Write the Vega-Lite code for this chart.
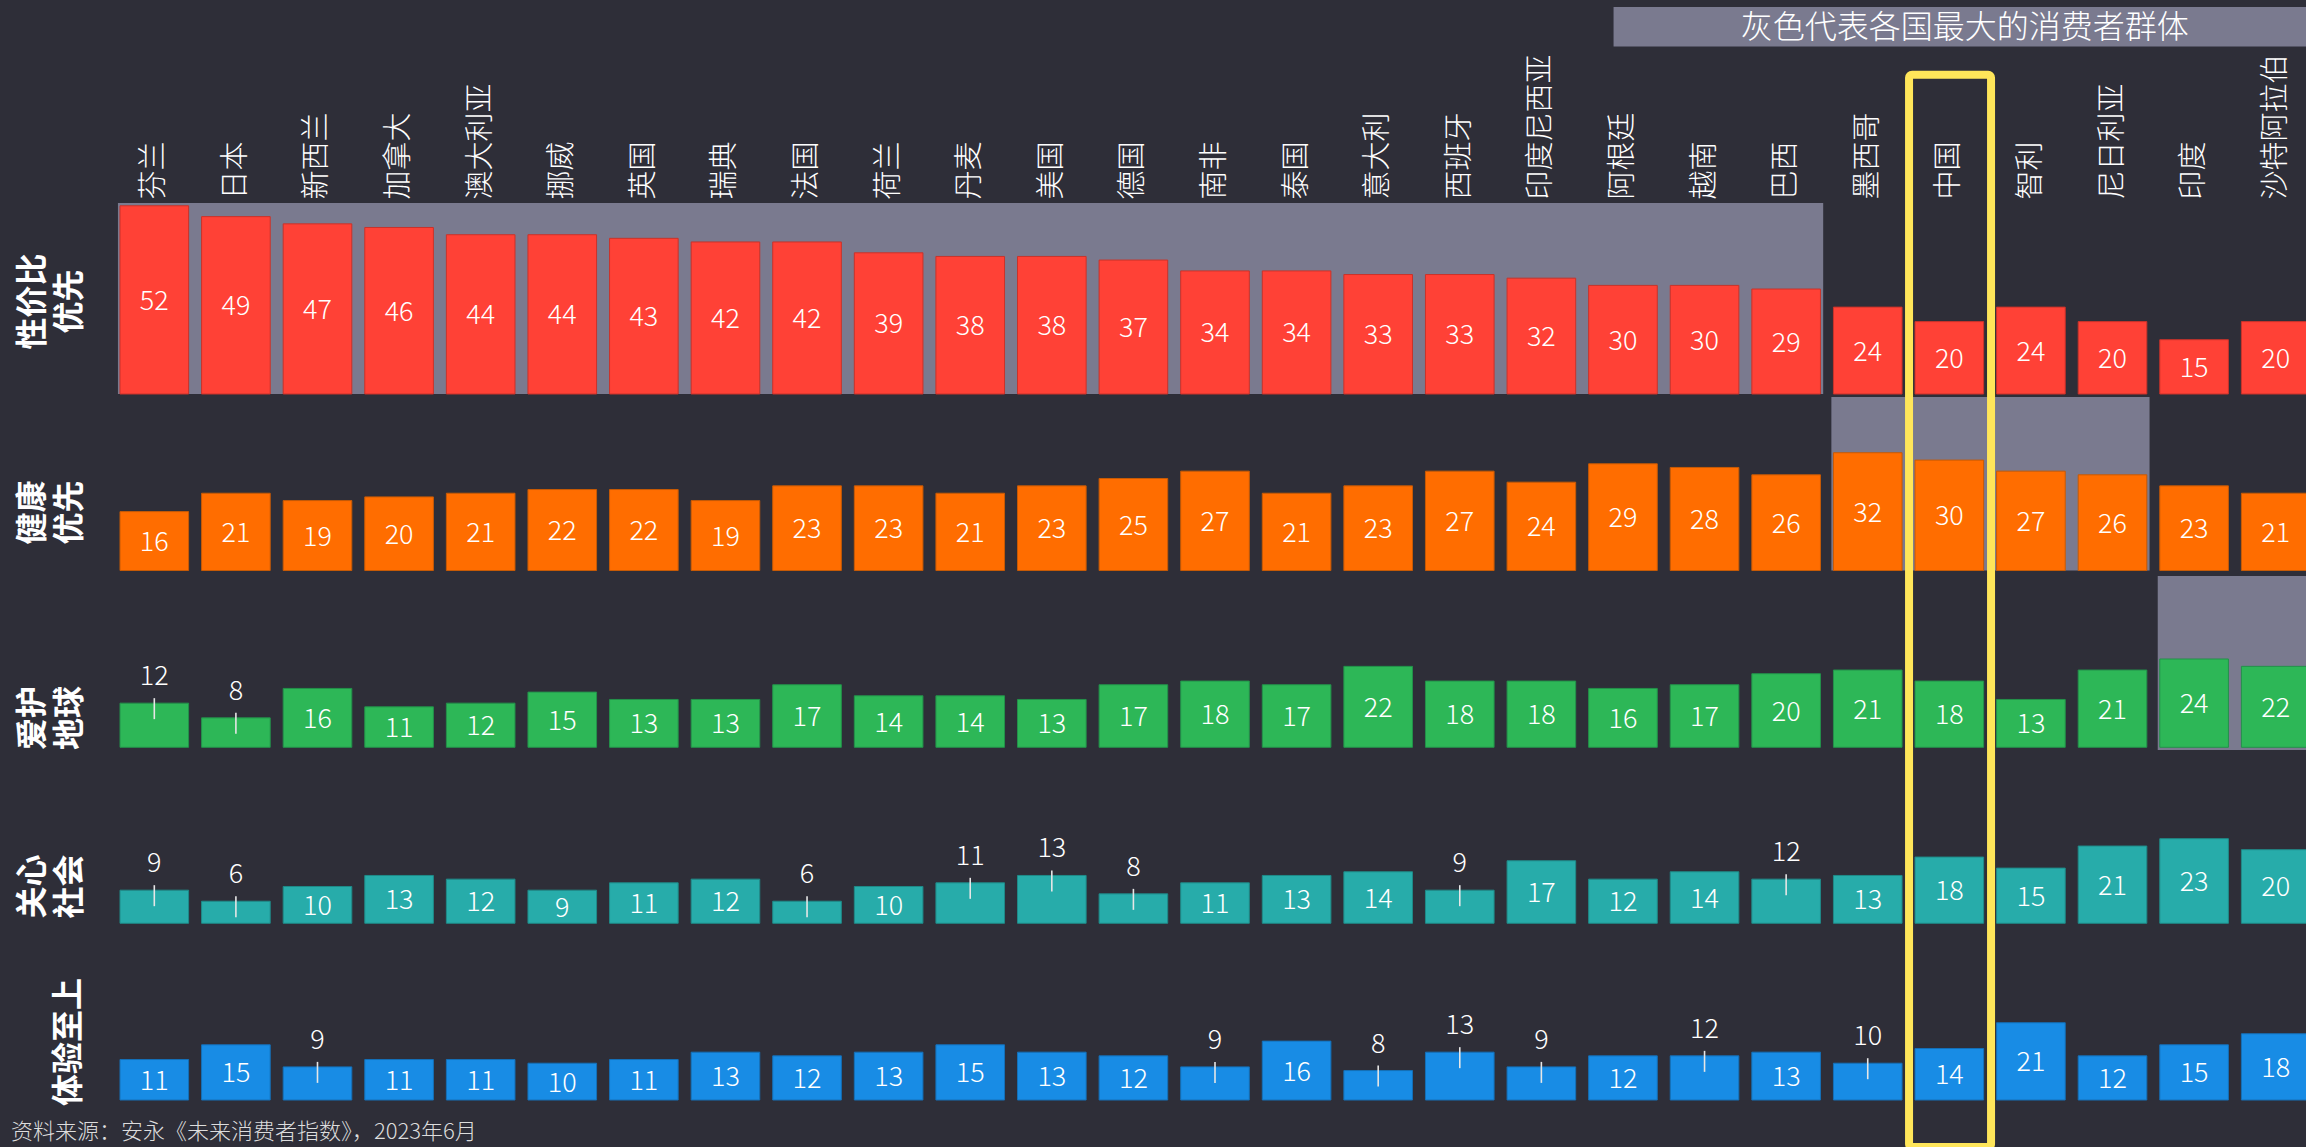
{
  "$schema": "https://vega.github.io/schema/vega-lite/v6.json",
  "width": 2186,
  "height": 1147,
  "autosize": {"type": "none"},
  "padding": {"left": 120, "top": 0, "right": 0, "bottom": 0},
  "background": "#2E2E38",
  "config": {"view": {"stroke": null}, "axis": {"grid": false}},
  "datasets": {
    "groups": [
      {"metric": "性价比优先", "from": "芬兰", "to": "巴西"},
      {"metric": "健康优先", "from": "墨西哥", "to": "尼日利亚"},
      {"metric": "爱护地球", "from": "印度", "to": "沙特阿拉伯"}
    ],
    "scores": [
      {"country": "芬兰", "metric": "性价比优先", "value": 52},
      {"country": "日本", "metric": "性价比优先", "value": 49},
      {"country": "新西兰", "metric": "性价比优先", "value": 47},
      {"country": "加拿大", "metric": "性价比优先", "value": 46},
      {"country": "澳大利亚", "metric": "性价比优先", "value": 44},
      {"country": "挪威", "metric": "性价比优先", "value": 44},
      {"country": "英国", "metric": "性价比优先", "value": 43},
      {"country": "瑞典", "metric": "性价比优先", "value": 42},
      {"country": "法国", "metric": "性价比优先", "value": 42},
      {"country": "荷兰", "metric": "性价比优先", "value": 39},
      {"country": "丹麦", "metric": "性价比优先", "value": 38},
      {"country": "美国", "metric": "性价比优先", "value": 38},
      {"country": "德国", "metric": "性价比优先", "value": 37},
      {"country": "南非", "metric": "性价比优先", "value": 34},
      {"country": "泰国", "metric": "性价比优先", "value": 34},
      {"country": "意大利", "metric": "性价比优先", "value": 33},
      {"country": "西班牙", "metric": "性价比优先", "value": 33},
      {"country": "印度尼西亚", "metric": "性价比优先", "value": 32},
      {"country": "阿根廷", "metric": "性价比优先", "value": 30},
      {"country": "越南", "metric": "性价比优先", "value": 30},
      {"country": "巴西", "metric": "性价比优先", "value": 29},
      {"country": "墨西哥", "metric": "性价比优先", "value": 24},
      {"country": "中国", "metric": "性价比优先", "value": 20},
      {"country": "智利", "metric": "性价比优先", "value": 24},
      {"country": "尼日利亚", "metric": "性价比优先", "value": 20},
      {"country": "印度", "metric": "性价比优先", "value": 15},
      {"country": "沙特阿拉伯", "metric": "性价比优先", "value": 20},
      {"country": "芬兰", "metric": "健康优先", "value": 16},
      {"country": "日本", "metric": "健康优先", "value": 21},
      {"country": "新西兰", "metric": "健康优先", "value": 19},
      {"country": "加拿大", "metric": "健康优先", "value": 20},
      {"country": "澳大利亚", "metric": "健康优先", "value": 21},
      {"country": "挪威", "metric": "健康优先", "value": 22},
      {"country": "英国", "metric": "健康优先", "value": 22},
      {"country": "瑞典", "metric": "健康优先", "value": 19},
      {"country": "法国", "metric": "健康优先", "value": 23},
      {"country": "荷兰", "metric": "健康优先", "value": 23},
      {"country": "丹麦", "metric": "健康优先", "value": 21},
      {"country": "美国", "metric": "健康优先", "value": 23},
      {"country": "德国", "metric": "健康优先", "value": 25},
      {"country": "南非", "metric": "健康优先", "value": 27},
      {"country": "泰国", "metric": "健康优先", "value": 21},
      {"country": "意大利", "metric": "健康优先", "value": 23},
      {"country": "西班牙", "metric": "健康优先", "value": 27},
      {"country": "印度尼西亚", "metric": "健康优先", "value": 24},
      {"country": "阿根廷", "metric": "健康优先", "value": 29},
      {"country": "越南", "metric": "健康优先", "value": 28},
      {"country": "巴西", "metric": "健康优先", "value": 26},
      {"country": "墨西哥", "metric": "健康优先", "value": 32},
      {"country": "中国", "metric": "健康优先", "value": 30},
      {"country": "智利", "metric": "健康优先", "value": 27},
      {"country": "尼日利亚", "metric": "健康优先", "value": 26},
      {"country": "印度", "metric": "健康优先", "value": 23},
      {"country": "沙特阿拉伯", "metric": "健康优先", "value": 21},
      {"country": "芬兰", "metric": "爱护地球", "value": 12, "callout": true},
      {"country": "日本", "metric": "爱护地球", "value": 8, "callout": true},
      {"country": "新西兰", "metric": "爱护地球", "value": 16},
      {"country": "加拿大", "metric": "爱护地球", "value": 11},
      {"country": "澳大利亚", "metric": "爱护地球", "value": 12},
      {"country": "挪威", "metric": "爱护地球", "value": 15},
      {"country": "英国", "metric": "爱护地球", "value": 13},
      {"country": "瑞典", "metric": "爱护地球", "value": 13},
      {"country": "法国", "metric": "爱护地球", "value": 17},
      {"country": "荷兰", "metric": "爱护地球", "value": 14},
      {"country": "丹麦", "metric": "爱护地球", "value": 14},
      {"country": "美国", "metric": "爱护地球", "value": 13},
      {"country": "德国", "metric": "爱护地球", "value": 17},
      {"country": "南非", "metric": "爱护地球", "value": 18},
      {"country": "泰国", "metric": "爱护地球", "value": 17},
      {"country": "意大利", "metric": "爱护地球", "value": 22},
      {"country": "西班牙", "metric": "爱护地球", "value": 18},
      {"country": "印度尼西亚", "metric": "爱护地球", "value": 18},
      {"country": "阿根廷", "metric": "爱护地球", "value": 16},
      {"country": "越南", "metric": "爱护地球", "value": 17},
      {"country": "巴西", "metric": "爱护地球", "value": 20},
      {"country": "墨西哥", "metric": "爱护地球", "value": 21},
      {"country": "中国", "metric": "爱护地球", "value": 18},
      {"country": "智利", "metric": "爱护地球", "value": 13},
      {"country": "尼日利亚", "metric": "爱护地球", "value": 21},
      {"country": "印度", "metric": "爱护地球", "value": 24},
      {"country": "沙特阿拉伯", "metric": "爱护地球", "value": 22},
      {"country": "芬兰", "metric": "关心社会", "value": 9, "callout": true},
      {"country": "日本", "metric": "关心社会", "value": 6, "callout": true},
      {"country": "新西兰", "metric": "关心社会", "value": 10},
      {"country": "加拿大", "metric": "关心社会", "value": 13},
      {"country": "澳大利亚", "metric": "关心社会", "value": 12},
      {"country": "挪威", "metric": "关心社会", "value": 9},
      {"country": "英国", "metric": "关心社会", "value": 11},
      {"country": "瑞典", "metric": "关心社会", "value": 12},
      {"country": "法国", "metric": "关心社会", "value": 6, "callout": true},
      {"country": "荷兰", "metric": "关心社会", "value": 10},
      {"country": "丹麦", "metric": "关心社会", "value": 11, "callout": true},
      {"country": "美国", "metric": "关心社会", "value": 13, "callout": true},
      {"country": "德国", "metric": "关心社会", "value": 8, "callout": true},
      {"country": "南非", "metric": "关心社会", "value": 11},
      {"country": "泰国", "metric": "关心社会", "value": 13},
      {"country": "意大利", "metric": "关心社会", "value": 14},
      {"country": "西班牙", "metric": "关心社会", "value": 9, "callout": true},
      {"country": "印度尼西亚", "metric": "关心社会", "value": 17},
      {"country": "阿根廷", "metric": "关心社会", "value": 12},
      {"country": "越南", "metric": "关心社会", "value": 14},
      {"country": "巴西", "metric": "关心社会", "value": 12, "callout": true},
      {"country": "墨西哥", "metric": "关心社会", "value": 13},
      {"country": "中国", "metric": "关心社会", "value": 18},
      {"country": "智利", "metric": "关心社会", "value": 15},
      {"country": "尼日利亚", "metric": "关心社会", "value": 21},
      {"country": "印度", "metric": "关心社会", "value": 23},
      {"country": "沙特阿拉伯", "metric": "关心社会", "value": 20},
      {"country": "芬兰", "metric": "体验至上", "value": 11},
      {"country": "日本", "metric": "体验至上", "value": 15},
      {"country": "新西兰", "metric": "体验至上", "value": 9, "callout": true},
      {"country": "加拿大", "metric": "体验至上", "value": 11},
      {"country": "澳大利亚", "metric": "体验至上", "value": 11},
      {"country": "挪威", "metric": "体验至上", "value": 10},
      {"country": "英国", "metric": "体验至上", "value": 11},
      {"country": "瑞典", "metric": "体验至上", "value": 13},
      {"country": "法国", "metric": "体验至上", "value": 12},
      {"country": "荷兰", "metric": "体验至上", "value": 13},
      {"country": "丹麦", "metric": "体验至上", "value": 15},
      {"country": "美国", "metric": "体验至上", "value": 13},
      {"country": "德国", "metric": "体验至上", "value": 12},
      {"country": "南非", "metric": "体验至上", "value": 9, "callout": true},
      {"country": "泰国", "metric": "体验至上", "value": 16},
      {"country": "意大利", "metric": "体验至上", "value": 8, "callout": true},
      {"country": "西班牙", "metric": "体验至上", "value": 13, "callout": true},
      {"country": "印度尼西亚", "metric": "体验至上", "value": 9, "callout": true},
      {"country": "阿根廷", "metric": "体验至上", "value": 12},
      {"country": "越南", "metric": "体验至上", "value": 12, "callout": true},
      {"country": "巴西", "metric": "体验至上", "value": 13},
      {"country": "墨西哥", "metric": "体验至上", "value": 10, "callout": true},
      {"country": "中国", "metric": "体验至上", "value": 14},
      {"country": "智利", "metric": "体验至上", "value": 21},
      {"country": "尼日利亚", "metric": "体验至上", "value": 12},
      {"country": "印度", "metric": "体验至上", "value": 15},
      {"country": "沙特阿拉伯", "metric": "体验至上", "value": 18}
    ]
  },
  "data": {"name": "scores"},
  "resolve": {"scale": {"y": "independent"}, "axis": {"y": "independent"}},
  "layer": [
    {
      "layer": [
        {
          "data": {"name": "groups"},
          "transform": [{"filter": "datum.metric === '性价比优先'"}],
          "mark": {"type": "rect", "color": "#7A7A8F"},
          "encoding": {
            "x": {"field": "from", "type": "nominal", "bandPosition": -0.03},
            "x2": {"field": "to", "bandPosition": 1.04},
            "y": {"datum": 52.76, "type": "quantitative"},
            "y2": {"datum": 0}
          }
        },
        {
          "transform": [{"filter": "datum.metric === '性价比优先'"}],
          "mark": {"type": "bar", "color": "#FF4136", "stroke": "#C9332A", "strokeWidth": 1},
          "encoding": {
            "x": {
              "field": "country", "type": "nominal", "sort": null,
              "scale": {"type": "band", "domain": ["芬兰", "日本", "新西兰", "加拿大", "澳大利亚", "挪威", "英国", "瑞典", "法国", "荷兰", "丹麦", "美国", "德国", "南非", "泰国", "意大利", "西班牙", "印度尼西亚", "阿根廷", "越南", "巴西", "墨西哥", "中国", "智利", "尼日利亚", "印度", "沙特阿拉伯"], "range": [0, 2190], "paddingInner": 0.159, "paddingOuter": 0},
              "axis": {"orient": "top", "offset": -203, "title": null, "labelAngle": -90, "labelAlign": "left", "labelBaseline": "middle", "labelPadding": 4, "ticks": false, "domain": false, "grid": false, "labels": true, "labelFont": "Noto Sans CJK SC", "labelFontSize": 29, "labelFontWeight": 300, "labelColor": "#FFFFFF", "labelOverlap": false, "labelBound": false, "labelFlush": false, "labelLimit": 300}
            },
            "y": {
              "field": "value", "type": "quantitative",
              "scale": {"domain": [-208.01, 108.84], "nice": false, "zero": false},
              "axis": {"orient": "left", "title": ["性价比", "优先"], "titleX": -88, "titleY": 301, "titleAngle": -90, "titleAlign": "center", "titleBaseline": "middle", "titleFont": "Noto Sans CJK SC", "titleFontSize": 32, "titleFontWeight": "bold", "titleColor": "#FFFFFF", "titleLineHeight": 37, "labels": false, "ticks": false, "domain": false, "grid": false}
            }
          }
        },
        {
          "transform": [{"filter": "datum.metric === '性价比优先' && !datum.callout"}],
          "mark": {"type": "text", "color": "#FFFFFF", "font": "Noto Sans CJK SC", "fontSize": 27, "fontWeight": 300, "baseline": "middle", "align": "center", "dy": 2},
          "encoding": {
            "x": {"field": "country", "type": "nominal"},
            "y": {"field": "value", "type": "quantitative", "stack": "zero", "bandPosition": 0.5},
            "text": {"field": "value", "type": "quantitative"}
          }
        },
        {
          "data": {"values": [{}]},
          "mark": {"type": "rect", "color": "#7A7A8F"},
          "encoding": {
            "x": {"datum": "阿根廷", "type": "nominal", "bandPosition": 0.363},
            "x2": {"datum": "沙特阿拉伯", "bandPosition": 1.5},
            "y": {"datum": 106.91, "type": "quantitative"},
            "y2": {"datum": 95.99}
          }
        },
        {
          "data": {"values": [{}]},
          "mark": {"type": "text", "text": "灰色代表各国最大的消费者群体", "color": "#FFFFFF", "font": "Noto Sans CJK SC", "fontSize": 32, "fontWeight": 300, "baseline": "middle", "align": "center"},
          "encoding": {
            "x": {"datum": "中国", "type": "nominal", "bandPosition": 0.724},
            "y": {"datum": 101.24, "type": "quantitative"}
          }
        }
      ]
    },
    {
      "layer": [
        {
          "data": {"name": "groups"},
          "transform": [{"filter": "datum.metric === '健康优先'"}],
          "mark": {"type": "rect", "color": "#7A7A8F"},
          "encoding": {
            "x": {"field": "from", "type": "nominal", "bandPosition": -0.03},
            "x2": {"field": "to", "bandPosition": 1.04},
            "y": {"datum": 47.15, "type": "quantitative"},
            "y2": {"datum": 0}
          }
        },
        {
          "transform": [{"filter": "datum.metric === '健康优先'"}],
          "mark": {"type": "bar", "color": "#FF6D00", "stroke": "#C75A05", "strokeWidth": 1},
          "encoding": {
            "x": {"field": "country", "type": "nominal"},
            "y": {
              "field": "value", "type": "quantitative",
              "scale": {"domain": [-156.66, 155.03], "nice": false, "zero": false},
              "axis": {"orient": "left", "title": ["健康", "优先"], "titleX": -88, "titleY": 512, "titleAngle": -90, "titleAlign": "center", "titleBaseline": "middle", "titleFont": "Noto Sans CJK SC", "titleFontSize": 32, "titleFontWeight": "bold", "titleColor": "#FFFFFF", "titleLineHeight": 37, "labels": false, "ticks": false, "domain": false, "grid": false}
            }
          }
        },
        {
          "transform": [{"filter": "datum.metric === '健康优先' && !datum.callout"}],
          "mark": {"type": "text", "color": "#FFFFFF", "font": "Noto Sans CJK SC", "fontSize": 27, "fontWeight": 300, "baseline": "middle", "align": "center", "dy": 2},
          "encoding": {
            "x": {"field": "country", "type": "nominal"},
            "y": {"field": "value", "type": "quantitative", "stack": "zero", "bandPosition": 0.5},
            "text": {"field": "value", "type": "quantitative"}
          }
        }
      ]
    },
    {
      "layer": [
        {
          "data": {"name": "groups"},
          "transform": [{"filter": "datum.metric === '爱护地球'"}],
          "mark": {"type": "rect", "color": "#7A7A8F"},
          "encoding": {
            "x": {"field": "from", "type": "nominal", "bandPosition": -0.03},
            "x2": {"field": "to", "bandPosition": 1.04},
            "y": {"datum": 46.55, "type": "quantitative"},
            "y2": {"datum": -0.73}
          }
        },
        {
          "transform": [{"filter": "datum.metric === '爱护地球'"}],
          "mark": {"type": "bar", "color": "#2DB757", "stroke": "#23914A", "strokeWidth": 1},
          "encoding": {
            "x": {"field": "country", "type": "nominal"},
            "y": {
              "field": "value", "type": "quantitative",
              "scale": {"domain": [-108.61, 203.07], "nice": false, "zero": false},
              "axis": {"orient": "left", "title": ["爱护", "地球"], "titleX": -88, "titleY": 717.5, "titleAngle": -90, "titleAlign": "center", "titleBaseline": "middle", "titleFont": "Noto Sans CJK SC", "titleFontSize": 32, "titleFontWeight": "bold", "titleColor": "#FFFFFF", "titleLineHeight": 37, "labels": false, "ticks": false, "domain": false, "grid": false}
            }
          }
        },
        {
          "transform": [{"filter": "datum.metric === '爱护地球' && !datum.callout"}],
          "mark": {"type": "text", "color": "#FFFFFF", "font": "Noto Sans CJK SC", "fontSize": 27, "fontWeight": 300, "baseline": "middle", "align": "center", "dy": 2},
          "encoding": {
            "x": {"field": "country", "type": "nominal"},
            "y": {"field": "value", "type": "quantitative", "stack": "zero", "bandPosition": 0.5},
            "text": {"field": "value", "type": "quantitative"}
          }
        },
        {
          "transform": [{"filter": "datum.metric === '爱护地球' && datum.callout"}],
          "mark": {"type": "text", "color": "#FFFFFF", "font": "Noto Sans CJK SC", "fontSize": 27, "fontWeight": 300, "baseline": "alphabetic", "align": "center", "dy": -18},
          "encoding": {
            "x": {"field": "country", "type": "nominal"},
            "y": {"field": "value", "type": "quantitative"},
            "text": {"field": "value", "type": "quantitative"}
          }
        },
        {
          "transform": [{"filter": "datum.metric === '爱护地球' && datum.callout"}],
          "mark": {"type": "rule", "color": "#E6E6E6", "strokeWidth": 1.6, "yOffset": -5, "y2Offset": 16},
          "encoding": {
            "x": {"field": "country", "type": "nominal"},
            "y": {"field": "value", "type": "quantitative"},
            "y2": {"field": "value"}
          }
        }
      ]
    },
    {
      "layer": [
        {
          "transform": [{"filter": "datum.metric === '关心社会'"}],
          "mark": {"type": "bar", "color": "#27ACAA", "stroke": "#1F8A88", "strokeWidth": 1},
          "encoding": {
            "x": {"field": "country", "type": "nominal"},
            "y": {
              "field": "value", "type": "quantitative",
              "scale": {"domain": [-60.79, 250.9], "nice": false, "zero": false},
              "axis": {"orient": "left", "title": ["关心", "社会"], "titleX": -88, "titleY": 886, "titleAngle": -90, "titleAlign": "center", "titleBaseline": "middle", "titleFont": "Noto Sans CJK SC", "titleFontSize": 32, "titleFontWeight": "bold", "titleColor": "#FFFFFF", "titleLineHeight": 37, "labels": false, "ticks": false, "domain": false, "grid": false}
            }
          }
        },
        {
          "transform": [{"filter": "datum.metric === '关心社会' && !datum.callout"}],
          "mark": {"type": "text", "color": "#FFFFFF", "font": "Noto Sans CJK SC", "fontSize": 27, "fontWeight": 300, "baseline": "middle", "align": "center", "dy": 2},
          "encoding": {
            "x": {"field": "country", "type": "nominal"},
            "y": {"field": "value", "type": "quantitative", "stack": "zero", "bandPosition": 0.5},
            "text": {"field": "value", "type": "quantitative"}
          }
        },
        {
          "transform": [{"filter": "datum.metric === '关心社会' && datum.callout"}],
          "mark": {"type": "text", "color": "#FFFFFF", "font": "Noto Sans CJK SC", "fontSize": 27, "fontWeight": 300, "baseline": "alphabetic", "align": "center", "dy": -18},
          "encoding": {
            "x": {"field": "country", "type": "nominal"},
            "y": {"field": "value", "type": "quantitative"},
            "text": {"field": "value", "type": "quantitative"}
          }
        },
        {
          "transform": [{"filter": "datum.metric === '关心社会' && datum.callout"}],
          "mark": {"type": "rule", "color": "#E6E6E6", "strokeWidth": 1.6, "yOffset": -5, "y2Offset": 16},
          "encoding": {
            "x": {"field": "country", "type": "nominal"},
            "y": {"field": "value", "type": "quantitative"},
            "y2": {"field": "value"}
          }
        }
      ]
    },
    {
      "layer": [
        {
          "transform": [{"filter": "datum.metric === '体验至上'"}],
          "mark": {"type": "bar", "color": "#188CE5", "stroke": "#1470B8", "strokeWidth": 1},
          "encoding": {
            "x": {"field": "country", "type": "nominal"},
            "y": {
              "field": "value", "type": "quantitative",
              "scale": {"domain": [-12.77, 298.91], "nice": false, "zero": false},
              "axis": {"orient": "left", "title": "体验至上", "titleX": -52, "titleY": 1041.5, "titleAngle": -90, "titleAlign": "center", "titleBaseline": "middle", "titleFont": "Noto Sans CJK SC", "titleFontSize": 32, "titleFontWeight": "bold", "titleColor": "#FFFFFF", "labels": false, "ticks": false, "domain": false, "grid": false}
            }
          }
        },
        {
          "transform": [{"filter": "datum.metric === '体验至上' && !datum.callout"}],
          "mark": {"type": "text", "color": "#FFFFFF", "font": "Noto Sans CJK SC", "fontSize": 27, "fontWeight": 300, "baseline": "middle", "align": "center", "dy": 2},
          "encoding": {
            "x": {"field": "country", "type": "nominal"},
            "y": {"field": "value", "type": "quantitative", "stack": "zero", "bandPosition": 0.5},
            "text": {"field": "value", "type": "quantitative"}
          }
        },
        {
          "transform": [{"filter": "datum.metric === '体验至上' && datum.callout"}],
          "mark": {"type": "text", "color": "#FFFFFF", "font": "Noto Sans CJK SC", "fontSize": 27, "fontWeight": 300, "baseline": "alphabetic", "align": "center", "dy": -18},
          "encoding": {
            "x": {"field": "country", "type": "nominal"},
            "y": {"field": "value", "type": "quantitative"},
            "text": {"field": "value", "type": "quantitative"}
          }
        },
        {
          "transform": [{"filter": "datum.metric === '体验至上' && datum.callout"}],
          "mark": {"type": "rule", "color": "#E6E6E6", "strokeWidth": 1.6, "yOffset": -5, "y2Offset": 16},
          "encoding": {
            "x": {"field": "country", "type": "nominal"},
            "y": {"field": "value", "type": "quantitative"},
            "y2": {"field": "value"}
          }
        },
        {
          "data": {"values": [{}]},
          "mark": {"type": "text", "text": "资料来源：安永《未来消费者指数》，2023年6月", "color": "#DDDDDD", "font": "Noto Sans CJK SC", "fontSize": 22, "fontWeight": 300, "align": "left", "baseline": "alphabetic", "dx": -109},
          "encoding": {
            "x": {"datum": "芬兰", "type": "nominal", "bandPosition": 0},
            "y": {"datum": -10.6, "type": "quantitative"}
          }
        },
        {
          "data": {"values": [{}]},
          "mark": {"type": "rect", "filled": false, "color": "#FFE65A", "strokeWidth": 8, "cornerRadius": 3},
          "encoding": {
            "x": {"datum": "中国", "type": "nominal", "bandPosition": -0.087},
            "x2": {"datum": "中国", "bandPosition": 1.108},
            "y": {"datum": 278.61, "type": "quantitative"},
            "y2": {"datum": -12.77}
          }
        }
      ]
    }
  ]
}
